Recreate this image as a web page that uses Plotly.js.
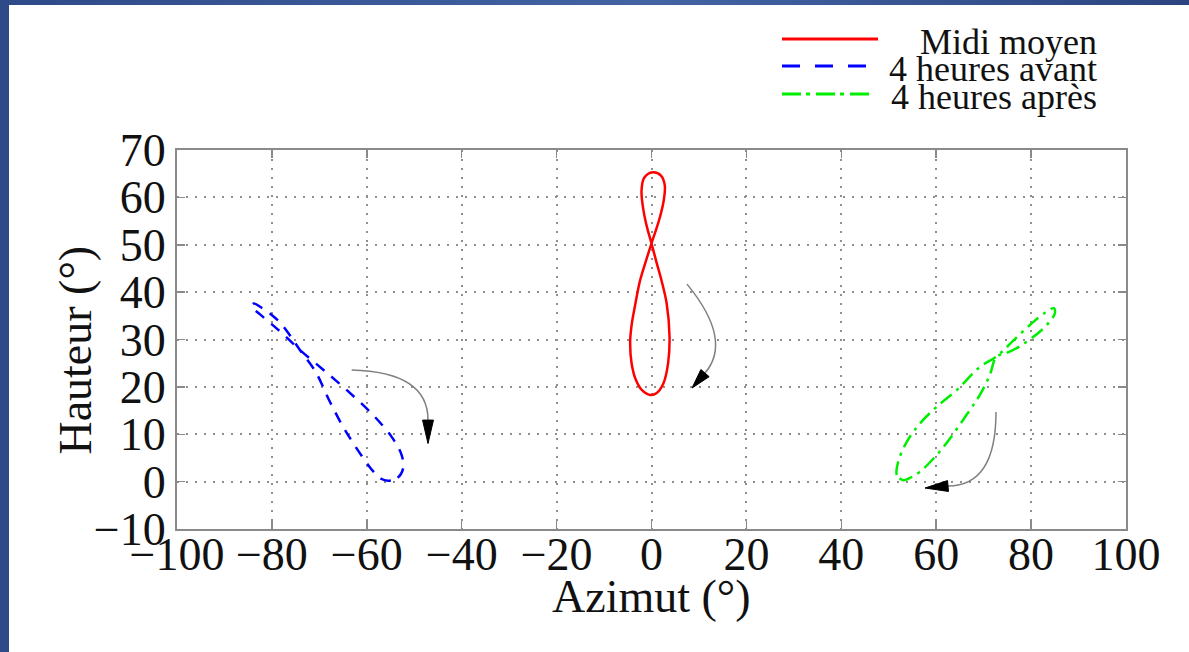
<!DOCTYPE html>
<html>
<head>
<meta charset="utf-8">
<script src="https://cdn.plot.ly/plotly-3.0.1.min.js"></script>
<style>
  html, body { margin: 0; padding: 0; width: 1189px; height: 652px; overflow: hidden;
    background: linear-gradient(to right, #2f4a88 0%, #4363a3 55%, #2c4580 100%); }
  #chart { position: absolute; left: 9px; top: 5px; width: 1180px; height: 647px; background: #fff; }
</style>
</head>
<body>
<div id="chart"></div>
<script>
// ---- Data ----
const seriesNames = ["Midi moyen", "4 heures avant", "4 heures après"];
const xTitle = "Azimut (°)";
const yTitle = "Hauteur (°)";

// Midi moyen (red, solid)
const noonAz = [-0.3, 1.1, 2.5, 3.5, 3.8, 3.2, 2.1, 1.0, 0.0, -0.9, -1.7, -2.1, -1.5, 0.3, 2.0, 2.8, 2.6, 1.8, 0.9, 0.0, -1.2, -2.4, -3.5, -4.2, -4.5, -4.2, -3.3, -2.0, -0.3];
const noonAlt = [18.3, 18.7, 20.7, 25.0, 30.6, 37.6, 42.5, 46.5, 50.3, 53.5, 57.3, 61.5, 64.2, 65.3, 64.6, 62.5, 59.5, 55.9, 53.0, 50.3, 46.5, 42.5, 37.0, 33.0, 29.5, 25.0, 21.5, 19.3, 18.3];

// 4 heures avant (blue, dashed)
const beforeAz = [-55.5, -53.5, -52.3, -52.8, -54.8, -59.0, -64.2, -68.8, -74.1, -77.5, -80.0, -82.5, -84.3, -83.8, -82.3, -80.3, -78.2, -76.0, -74.1, -70.8, -67.8, -64.6, -60.7, -58.5, -57.0, -55.5];
const beforeAlt = [0.2, 0.8, 3.0, 6.0, 9.5, 14.4, 19.3, 23.3, 27.8, 31.0, 33.2, 35.3, 37.0, 37.6, 36.8, 35.4, 33.5, 30.6, 27.8, 23.2, 16.9, 10.9, 4.9, 2.0, 0.6, 0.2];

// 4 heures après (green, dash-dot)
const afterAz = [53.1, 51.7, 52.0, 53.8, 56.6, 60.1, 64.3, 69.2, 72.7, 76.3, 80.0, 83.0, 84.8, 85.0, 84.0, 82.0, 78.0, 74.5, 72.7, 71.3, 69.2, 66.4, 62.9, 60.1, 56.6, 54.5, 53.1];
const afterAlt = [0.3, 1.4, 4.2, 8.4, 12.3, 15.8, 19.3, 24.2, 26.4, 29.8, 33.3, 35.7, 36.6, 35.5, 33.9, 31.8, 28.8, 27.0, 26.4, 22.5, 18.3, 14.1, 9.1, 5.6, 2.1, 0.8, 0.3];

const xTicks = [-100, -80, -60, -40, -20, 0, 20, 40, 60, 80, 100];
const yTicks = [-10, 0, 10, 20, 30, 40, 50, 60, 70];

// ---- Styling ----
const FONT = "'Liberation Serif', 'Times New Roman', serif";
const traces = [
  {x: noonAz, y: noonAlt, name: seriesNames[0], mode: 'lines',
   line: {color: '#ff0000', width: 2.5, shape: 'spline', smoothing: 1}},
  {x: beforeAz, y: beforeAlt, name: seriesNames[1], mode: 'lines',
   line: {color: '#0000ff', width: 2.5, dash: '11px,9px', shape: 'spline', smoothing: 1}},
  {x: afterAz, y: afterAlt, name: seriesNames[2], mode: 'lines',
   line: {color: '#00ee00', width: 2.5, dash: '14px,6px,3px,6px', shape: 'spline', smoothing: 1}}
];

// curved explanatory arrows (decoration), in data units: start, control, base of head, tip
const arrows = [
  {s: [7.48, 41.69], c: [17.18, 29.87], b: [11.28, 22.91], t: [8.54, 19.75]},
  {s: [-63.18, 23.54], c: [-47.10, 23.12], b: [-47.10, 12.99], t: [-47.10, 8.04]},
  {s: [72.6, 14.68], c: [72.6, -0.93], b: [62.49, -0.93], t: [57.64, -1.35]}
];
const shapes = [];
arrows.forEach(a => {
  shapes.push({type: 'path', xref: 'x', yref: 'y',
    path: `M ${a.s[0]} ${a.s[1]} Q ${a.c[0]} ${a.c[1]} ${a.b[0]} ${a.b[1]}`,
    line: {color: '#808080', width: 1.5}});
  const dx = a.t[0] - a.b[0], dy = a.t[1] - a.b[1];
  const L = Math.hypot(dx, dy), px = -dy / L, py = dx / L, hw = 1.15;
  shapes.push({type: 'path', xref: 'x', yref: 'y',
    path: `M ${a.t[0]} ${a.t[1]} L ${a.b[0] + px*hw} ${a.b[1] + py*hw} L ${a.b[0] - px*hw} ${a.b[1] - py*hw} Z`,
    fillcolor: '#000', line: {color: '#000', width: 1}});
});

// manual key (gnuplot style: sample on the left, text right-aligned)
const keyStyles = [
  {color: '#ff0000', dash: 'solid', x1: 0.7387, y: 1.2929},
  {color: '#0000ff', dash: '18px,15px', x1: 0.7260, y: 1.2216},
  {color: '#00ee00', dash: '19px,5px,4px,6px', x1: 0.7313, y: 1.1478}
];
const annotations = [];
keyStyles.forEach((k, i) => {
  shapes.push({type: 'line', xref: 'paper', yref: 'paper', x0: 0.6375, x1: k.x1, y0: k.y, y1: k.y,
    line: {color: k.color, width: 3, dash: k.dash}});
  annotations.push({xref: 'paper', yref: 'paper', x: 0.9715, y: k.y - 0.008, xanchor: 'right', yanchor: 'middle',
    text: seriesNames[i], showarrow: false, font: {family: FONT, size: 36, color: '#111'}});
});

// axis titles placed precisely
annotations.push({xref: 'paper', yref: 'paper', x: 0.5, y: -0.178, xanchor: 'center', yanchor: 'middle',
  text: xTitle, showarrow: false, font: {family: FONT, size: 46, color: '#111'}});
annotations.push({xref: 'paper', yref: 'paper', x: -0.107, y: 0.472, xanchor: 'center', yanchor: 'middle',
  text: yTitle, textangle: -90, showarrow: false, font: {family: FONT, size: 46, color: '#111'}});

const axisCommon = {
  showline: true, linecolor: '#8a8a8a', linewidth: 2, mirror: 'ticks',
  ticks: 'inside', ticklen: 8, tickcolor: '#8a8a8a', tickwidth: 1.5,
  showgrid: true, gridcolor: '#8f8f8f', gridwidth: 2, griddash: '2px,7px',
  zeroline: false, tickfont: {family: FONT, size: 46, color: '#111'}
};

const layout = {
  width: 1180, height: 647,
  paper_bgcolor: '#ffffff', plot_bgcolor: '#ffffff',
  margin: {l: 168, r: 63, t: 145, b: 123},
  showlegend: false,
  xaxis: Object.assign({}, axisCommon, {
    range: [-100, 100], tickvals: xTicks, ticktext: xTicks.map(v => (v < 0 ? '\u2212' + Math.abs(v) : String(v))),
    ticklabelstandoff: -16, automargin: false
  }),
  yaxis: Object.assign({}, axisCommon, {
    range: [-10, 70], tickvals: yTicks, ticktext: yTicks.map(v => (v < 0 ? '\u2212' + Math.abs(v) : String(v))),
    automargin: false
  }),
  shapes: shapes,
  annotations: annotations
};

Plotly.newPlot('chart', traces, layout, {displayModeBar: false, staticPlot: true});
</script>
</body>
</html>
